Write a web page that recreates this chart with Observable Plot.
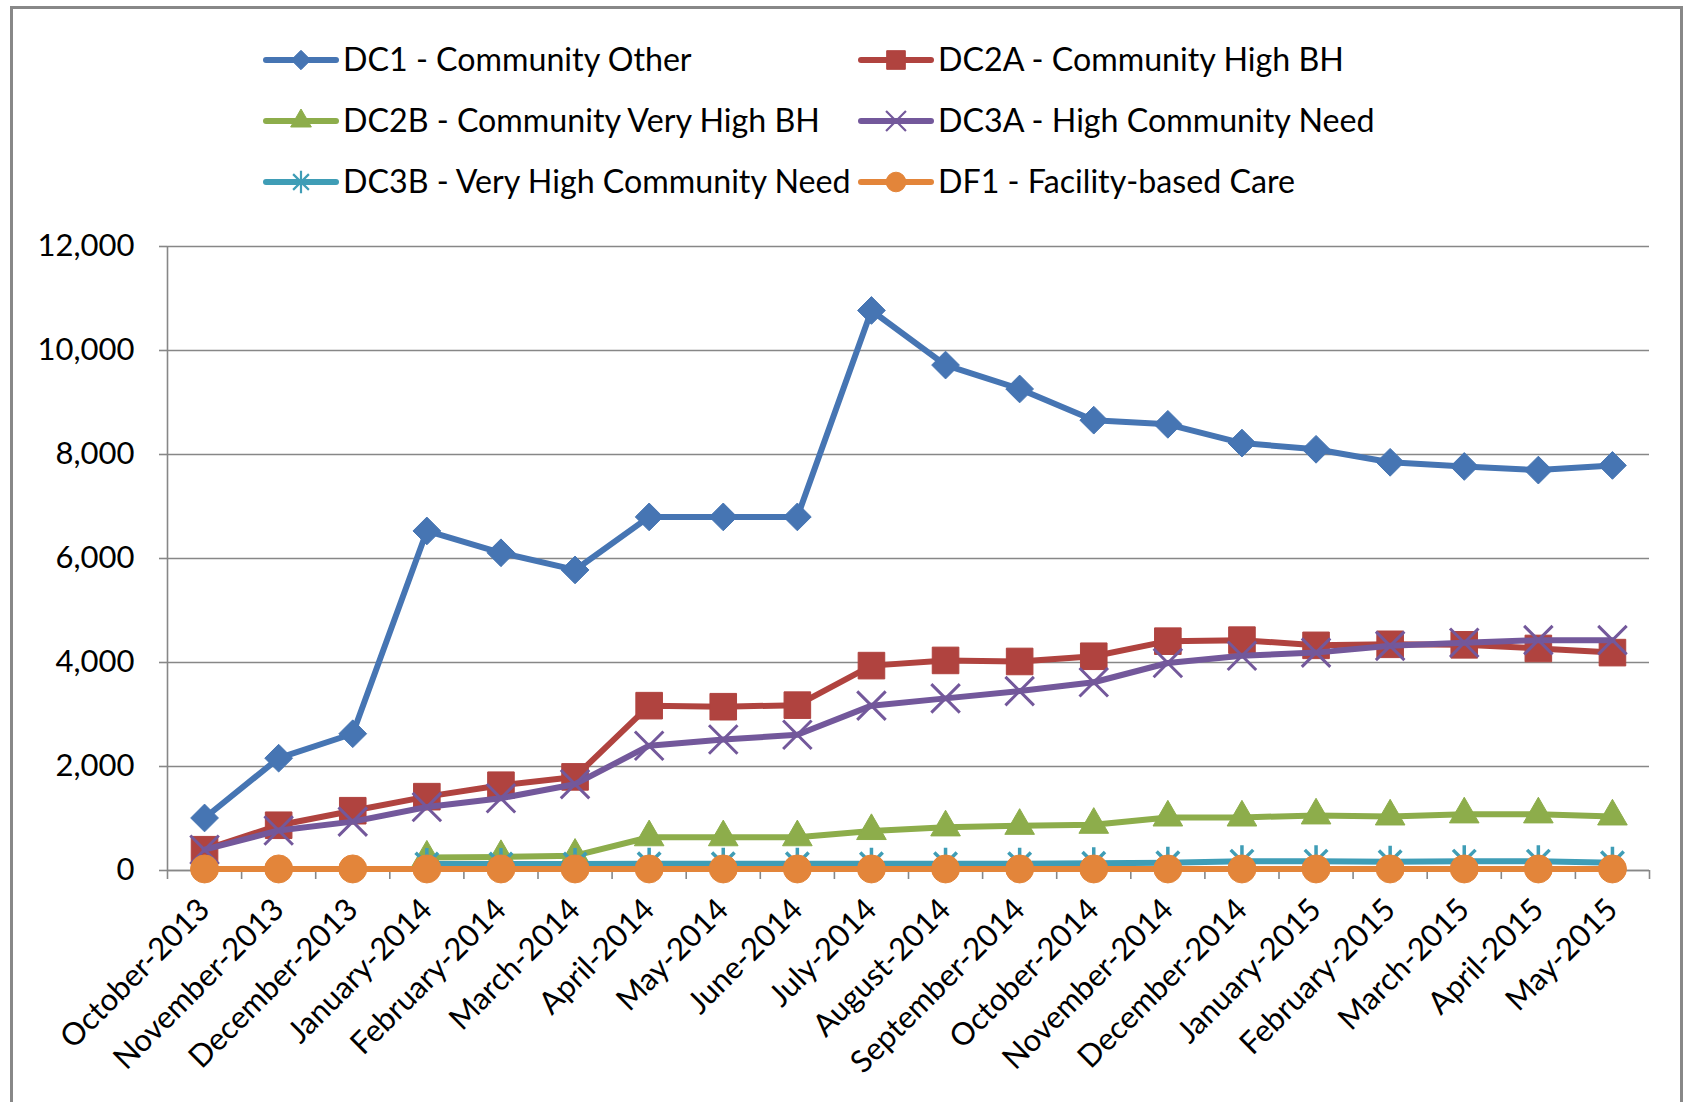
<!DOCTYPE html>
<html><head><meta charset="utf-8">
<script src="https://cdn.jsdelivr.net/npm/d3@7"></script>
<script src="https://cdn.jsdelivr.net/npm/@observablehq/plot@0.6"></script>
<style>
html,body{margin:0;padding:0;background:#fff;overflow:hidden;width:1690px;height:1102px;}
body{position:relative;font-family:Lato,"Open Sans",sans-serif;color:#000;}
#frame{position:absolute;left:10px;top:6px;width:1673px;height:1130px;border:3px solid #888;box-sizing:border-box;z-index:5;pointer-events:none;}
#legend{position:absolute;left:262px;top:29px;display:grid;grid-template-columns:595px 595px;grid-auto-rows:61px;}
.item{display:flex;align-items:center;height:61px;white-space:nowrap;}
.item svg{flex:none;}
.item span{font-size:32.2px;margin-left:3px;line-height:1;}
#chart{position:absolute;left:0;top:200px;}
</style></head><body>
<div id="frame"></div>
<div id="legend"></div>
<div id="chart"></div>
<script>
const months = ["October-2013","November-2013","December-2013","January-2014","February-2014","March-2014","April-2014","May-2014","June-2014","July-2014","August-2014","September-2014","October-2014","November-2014","December-2014","January-2015","February-2015","March-2015","April-2015","May-2015"];
const seriesNames = ["DC1 - Community Other","DC2A - Community High BH","DC2B - Community Very High BH","DC3A - High Community Need","DC3B - Very High Community Need","DF1 - Facility-based Care"];
const dc1  = [1010, 2160, 2630, 6530, 6110, 5780, 6800, 6800, 6800, 10770, 9720, 9260, 8660, 8580, 8220, 8100, 7850, 7770, 7700, 7790];
const dc2a = [400, 870, 1150, 1420, 1640, 1800, 3170, 3150, 3180, 3940, 4040, 4020, 4120, 4410, 4430, 4330, 4350, 4340, 4270, 4190];
const dc2b = [null, null, null, 250, 260, 285, 640, 640, 640, 760, 830, 860, 880, 1020, 1020, 1060, 1040, 1080, 1080, 1040];
const dc3a = [400, 770, 940, 1220, 1390, 1660, 2400, 2520, 2610, 3170, 3310, 3450, 3620, 3990, 4130, 4190, 4320, 4380, 4430, 4430];
const dc3b = [null, null, null, 125, 125, 125, 130, 130, 130, 130, 130, 130, 140, 150, 180, 180, 170, 180, 180, 150];
const df1  = [30, 30, 30, 30, 30, 30, 30, 30, 30, 30, 30, 30, 30, 30, 30, 30, 30, 30, 30, 30];
const yTicks = [0, 2000, 4000, 6000, 8000, 10000, 12000];

const colors = ["#4675B3", "#B0433F", "#8DAD4B", "#73589B", "#3F9DB6", "#E3853A"];
const excelStar = {draw(ctx, size) {
  const r = Math.sqrt(size) * 0.62, d = r * 0.7071;
  ctx.moveTo(0, -r); ctx.lineTo(0, r);
  ctx.moveTo(-d, -d); ctx.lineTo(d, d);
  ctx.moveTo(-d, d); ctx.lineTo(d, -d);
}};
const diamond2 = {draw(ctx, size) {
  const r = Math.sqrt(size) * 0.62625;
  ctx.moveTo(0, -r); ctx.lineTo(r, 0); ctx.lineTo(0, r); ctx.lineTo(-r, 0); ctx.closePath();
}};
const styles = [
  {symbol: diamond2, r: 12.5, filled: true, sw: 1},
  {symbol: d3.symbolSquare, r: 15, filled: true, sw: 1},
  {symbol: d3.symbolTriangle, r: 11, filled: true, sw: 1},
  {symbol: d3.symbolTimes, r: 13, filled: false, sw: 3},
  {symbol: excelStar, r: 14.5, filled: false, sw: 3.5},
  {symbol: d3.symbolCircle, r: 14, filled: true, sw: 1}
];
const values = [dc1, dc2a, dc2b, dc3a, dc3b, df1];

const data = [];
values.forEach((arr, s) => arr.forEach((v, i) => data.push({series: seriesNames[s], s, i, month: months[i], value: v})));

const indices = months.map((m, i) => i);
const boundaries = d3.range(-0.5, months.length, 1);
const xDomain = [-0.5, months.length - 0.5];

const marks = [
  Plot.gridY(yTicks, {stroke: "#878787", strokeOpacity: 1, strokeWidth: 1.6}),
  Plot.ruleX([xDomain[0]], {stroke: "#878787", strokeWidth: 1.6}),
  Plot.ruleY([0], {stroke: "#878787", strokeWidth: 1.6}),
  Plot.axisY(yTicks, {tickSize: 8, tickPadding: 25, stroke: "#878787", strokeWidth: 1.6, fill: "#000", fontSize: 31, tickFormat: d3.format(","), label: null}),
  Plot.axisX(boundaries, {tickSize: 9, stroke: "#878787", strokeWidth: 1.6, tickFormat: () => "", label: null}),
  Plot.axisX(indices, {tickSize: 0, tickPadding: 34, tickRotate: -45, textAnchor: "end", fill: "#000", fontSize: 31, tickFormat: i => months[i], label: null})
];
seriesNames.forEach((name, s) => {
  const d = data.filter(r => r.s === s);
  const st = styles[s];
  marks.push(Plot.line(d, {x: "i", y: "value", stroke: colors[s], strokeWidth: 6, strokeLinejoin: "round", strokeLinecap: "round"}));
  marks.push(Plot.dot(d.filter(r => r.value != null), {
    x: "i", y: "value", symbol: () => st.symbol, r: st.r,
    fill: st.filled ? colors[s] : "none", stroke: colors[s], strokeWidth: st.sw
  }));
});

const chart = Plot.plot({
  width: 1690, height: 902,
  marginLeft: 167, marginRight: 41, marginTop: 46, marginBottom: 232,
  style: {background: "transparent", fontFamily: "Lato, 'Open Sans', sans-serif", overflow: "visible"},
  x: {type: "linear", domain: xDomain},
  y: {domain: [0, 12000]},
  symbol: {type: "identity"},
  marks
});
document.getElementById("chart").appendChild(chart);

// legend
const legend = d3.select("#legend");
seriesNames.forEach((name, s) => {
  const item = legend.append("div").attr("class", "item");
  const svg = item.append("svg").attr("width", 78).attr("height", 30);
  svg.append("line").attr("x1", 4).attr("x2", 74).attr("y1", 15).attr("y2", 15)
    .attr("stroke", colors[s]).attr("stroke-width", 6).attr("stroke-linecap", "round");
  const st = styles[s];
  const rr = st.r * 0.7;
  svg.append("path").attr("transform", "translate(39,15)")
    .attr("d", d3.symbol(st.symbol, Math.PI * rr * rr)())
    .attr("fill", st.filled ? colors[s] : "none").attr("stroke", colors[s]).attr("stroke-width", st.filled ? 1 : 2.2);
  item.append("span").text(name);
});
</script>
</body></html>
